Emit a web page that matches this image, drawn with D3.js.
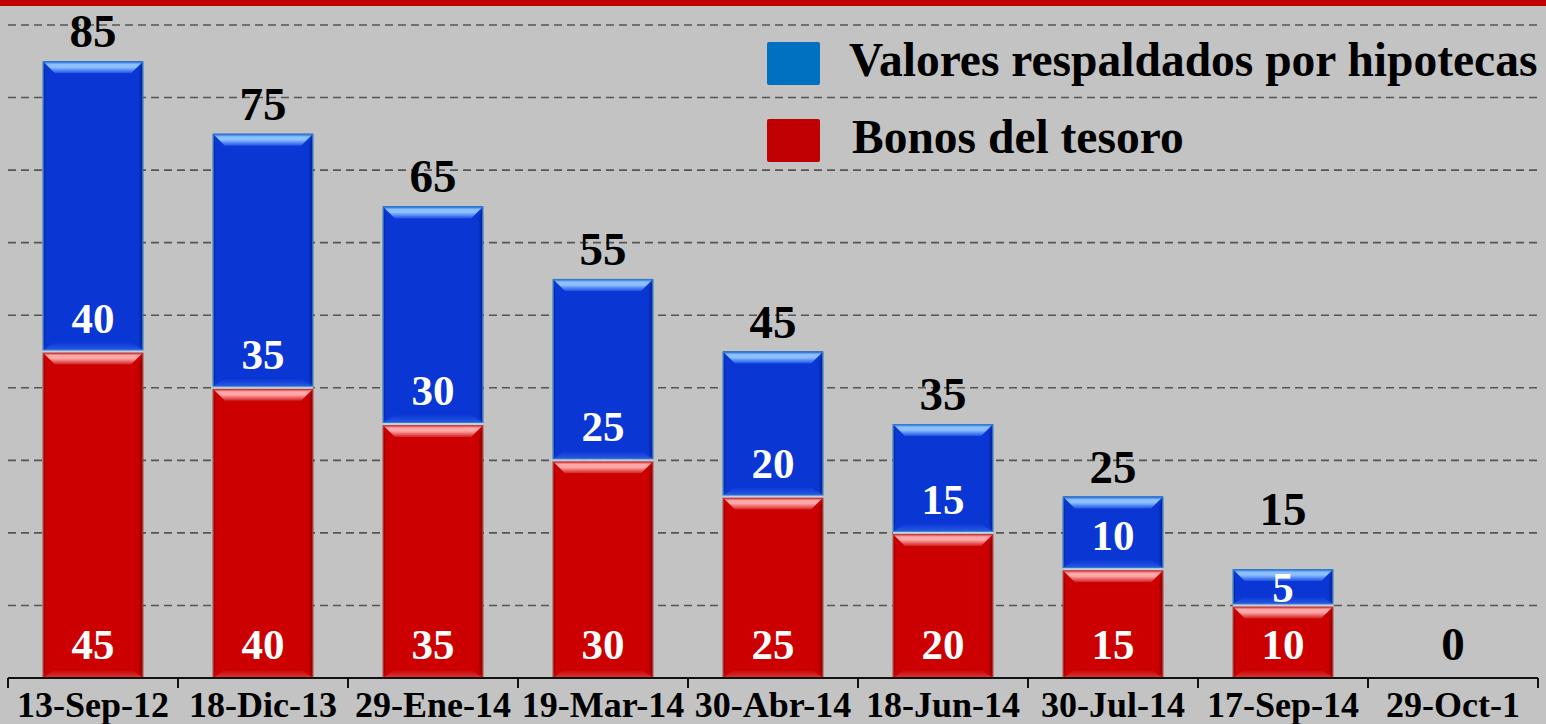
<!DOCTYPE html>
<html>
<head>
<meta charset="utf-8">
<script src="https://cdn.jsdelivr.net/npm/d3@7"></script>
<style>
	html, body { margin: 0; padding: 0; background: #c3c3c3; }
	svg { display: block; font-family: "Liberation Serif", "Times New Roman", serif; font-weight: bold; }
</style>
</head>
<body>
<div id="chart"></div>
<script>
// Data
var categories = ["13-Sep-12", "18-Dic-13", "29-Ene-14", "19-Mar-14", "30-Abr-14", "18-Jun-14", "30-Jul-14", "17-Sep-14", "29-Oct-1"];
var bonosTesoro = [45, 40, 35, 30, 25, 20, 15, 10, 0];
var valoresHipotecas = [40, 35, 30, 25, 20, 15, 10, 5, 0];
var gridTicks = [10, 20, 30, 40, 50, 60, 70, 80, 90];
var seriesNames = ["Valores respaldados por hipotecas", "Bonos del tesoro"];
var legendColors = ["#0070c0", "#c00000"];

var W = 1546, H = 724;
var dims = { left: 8, right: 1538, bottom: 678, top: 25 };

var svg = d3.select("#chart").append("svg")
	.attr("width", W)
	.attr("height", H);
var defs = svg.append("defs");

svg.append("rect")
	.attr("width", W).attr("height", H)
	.attr("fill", "#c3c3c3");

// top red rule
svg.append("rect")
	.attr("x", 0).attr("y", 0)
	.attr("width", W).attr("height", 6)
	.attr("fill", "#c00000");

var x = d3.scaleBand()
	.domain(categories)
	.range([dims.left, dims.right]);
var y = d3.scaleLinear()
	.domain([0, 90])
	.range([dims.bottom, dims.top]);

var barW = x.bandwidth() * 0.59;

// Gridlines
svg.append("g").selectAll("line")
	.data(gridTicks)
	.join("line")
	.attr("x1", dims.left).attr("x2", dims.right)
	.attr("y1", function(d){ return y(d); })
	.attr("y2", function(d){ return y(d); })
	.attr("stroke", "#555")
	.attr("stroke-width", 1.6)
	.attr("stroke-dasharray", "8,5");

// Gradients for bevel
function grad(id, stops, vertical){
	var g = defs.append("linearGradient").attr("id", id)
		.attr("x1", 0).attr("y1", 0)
		.attr("x2", vertical ? 0 : 1).attr("y2", vertical ? 1 : 0);
	stops.forEach(function(s){
		g.append("stop").attr("offset", s[0]).attr("stop-color", s[1]);
	});
}
var palettes = {
	blue: { base: "#0a36d4", edge: "#2a86c0", topA: "#1d50e8", topB: "#8cc0ff", topC: "#1e52e6", dark: "#041c8c", bot: "#2a5ae6" },
	red: { base: "#cc0000", edge: "#b04040", topA: "#d81818", topB: "#ffa8a8", topC: "#d22020", dark: "#7a0000", bot: "#d43a3a" }
};
Object.keys(palettes).forEach(function(k){
	var p = palettes[k];
	grad(k + "Top", [[0, p.topA], [0.25, p.topB], [0.5, p.topB], [1, p.topC]], true);
	grad(k + "Bot", [[0, p.base], [1, p.bot]], true);
	grad(k + "Left", [[0, p.dark], [1, p.base]], false);
	grad(k + "Right", [[0, p.base], [1, p.dark]], false);
});

function bevelBar(g, bx, by, bw, bh, key){
	var p = palettes[key];
	var b = Math.min(12, bh / 3);
	var s = 5;
	g.append("rect")
		.attr("x", bx).attr("y", by)
		.attr("width", bw).attr("height", bh)
		.attr("fill", p.base);
	var pts = function(a){ return a.map(function(d){ return d.join(","); }).join(" "); };
	g.append("polygon")
		.attr("points", pts([[bx, by + bh], [bx + bw, by + bh], [bx + bw - b, by + bh - b * 0.7], [bx + b, by + bh - b * 0.7]]))
		.attr("fill", "url(#" + key + "Bot)");
	g.append("polygon")
		.attr("points", pts([[bx, by], [bx + s * 0.6, by + b], [bx + s * 0.6, by + bh - b * 0.7], [bx, by + bh]]))
		.attr("fill", "url(#" + key + "Left)");
	g.append("polygon")
		.attr("points", pts([[bx + bw, by], [bx + bw - s, by + b], [bx + bw - s, by + bh - b * 0.7], [bx + bw, by + bh]]))
		.attr("fill", "url(#" + key + "Right)");
	g.append("polygon")
		.attr("points", pts([[bx, by], [bx + bw, by], [bx + bw - b, by + b], [bx + b, by + b]]))
		.attr("fill", "url(#" + key + "Top)");
	g.append("rect")
		.attr("x", bx + 0.5).attr("y", by + 0.5)
		.attr("width", bw - 1).attr("height", bh - 1)
		.attr("fill", "none")
		.attr("stroke", p.edge)
		.attr("stroke-width", 1);
}

// Bars
var bars = svg.append("g");
categories.forEach(function(c, i){
	var cx = x(c) + x.bandwidth() / 2;
	var bx = cx - barW / 2;
	var r = bonosTesoro[i], v = valoresHipotecas[i];
	var g = bars.append("g");
	if(r > 0) bevelBar(g, bx, y(r) + 1, barW, y(0) - y(r) - 1, "red");
	if(v > 0) bevelBar(g, bx, y(r + v), barW, y(r) - y(r + v) - 1, "blue");
	if(r > 0 && v > 0){
		g.append("rect")
			.attr("x", bx).attr("y", y(r) - 1)
			.attr("width", barW).attr("height", 2)
			.attr("fill", "#c9cde0");
	}
});

// Segment labels (white, near base of each segment)
var labels = svg.append("g").attr("fill", "#fff").attr("text-anchor", "middle").style("font-size", "43px");
categories.forEach(function(c, i){
	var cx = x(c) + x.bandwidth() / 2;
	var r = bonosTesoro[i], v = valoresHipotecas[i];
	if(r > 0){
		labels.append("text").attr("x", cx)
			.attr("y", Math.max(y(0) - 19, y(r) + 33))
			.text(r);
	}
	if(v > 0){
		labels.append("text").attr("x", cx)
			.attr("y", Math.max(y(r) - 19, y(r + v) + 33))
			.text(v);
	}
});

// Total labels
var totals = svg.append("g").attr("fill", "#000").attr("text-anchor", "middle").style("font-size", "47px");
categories.forEach(function(c, i){
	var cx = x(c) + x.bandwidth() / 2;
	var v = valoresHipotecas[i], t = bonosTesoro[i] + v;
	var off = (y(t - v) - y(t)) < 40 ? 44 : 14;
	if(t === 0) off = 18;
	totals.append("text").attr("x", cx)
		.attr("y", y(t) - off)
		.text(t);
});

// X axis
var axis = svg.append("g").attr("transform", "translate(0," + dims.bottom + ")");
axis.append("line")
	.attr("x1", dims.left).attr("x2", dims.right)
	.attr("stroke", "#111").attr("stroke-width", 2);
var tickX = categories.map(function(c){ return x(c); }).concat([dims.right]);
axis.selectAll("line.tick")
	.data(tickX)
	.join("line")
	.attr("class", "tick")
	.attr("x1", function(d){ return d; }).attr("x2", function(d){ return d; })
	.attr("y1", 0).attr("y2", 10)
	.attr("stroke", "#111").attr("stroke-width", 2);
axis.selectAll("text")
	.data(categories)
	.join("text")
	.attr("x", function(d){ return x(d) + x.bandwidth() / 2; })
	.attr("y", 39)
	.attr("text-anchor", "middle")
	.style("font-size", "36px")
	.attr("fill", "#000")
	.text(function(d){ return d; });

// Legend
var legend = svg.append("g");
seriesNames.forEach(function(name, i){
	var ly = 42 + i * 77;
	legend.append("rect")
		.attr("x", 767).attr("y", ly)
		.attr("width", 53).attr("height", 43)
		.attr("rx", 2)
		.attr("fill", legendColors[i]);
	legend.append("text")
		.attr("x", 849 + i * 3).attr("y", ly + 34)
		.style("font-size", "47.5px")
		.attr("fill", "#000")
		.text(name);
});
</script>
</body>
</html>
